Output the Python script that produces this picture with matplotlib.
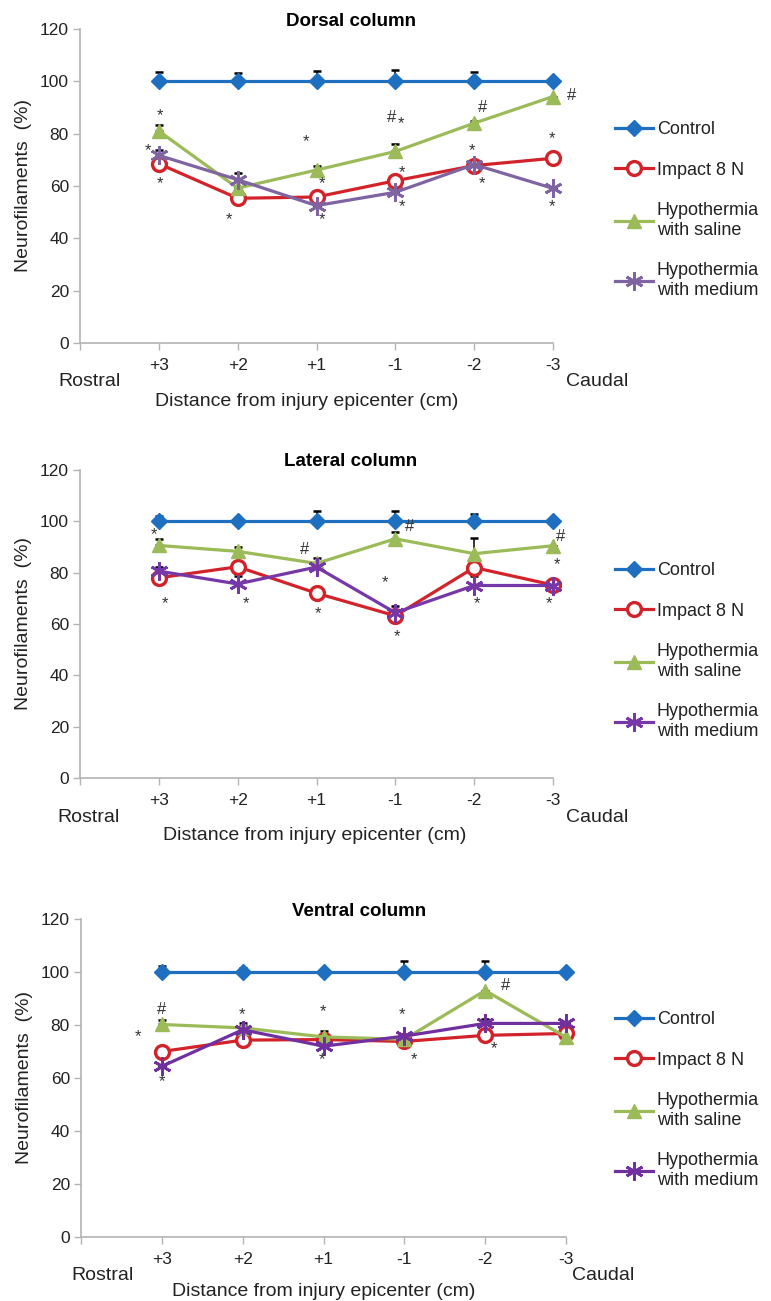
import numpy as np
import matplotlib
matplotlib.use('Agg')
import matplotlib.pyplot as plt

plt.rcParams['font.family'] = ['Liberation Sans', 'DejaVu Sans']

# categories along the cord (rostral -> caudal)
positions = ['+3', '+2', '+1', '-1', '-2', '-3']
groups = ['Control', 'Impact 8 N', 'Hypothermia\nwith saline', 'Hypothermia\nwith medium']

# Dorsal column (% of control), upper error bars
dorsal_control = [100, 100, 100, 100, 100, 100]
dorsal_impact = [68.5, 55.3, 55.8, 62.0, 67.8, 70.6]
dorsal_saline = [81.0, 59.2, 66.1, 73.2, 84.0, 94.2]
dorsal_medium = [71.7, 62.4, 52.5, 57.6, 68.2, 59.1]
dorsal_control_err = [3.7, 3.0, 4.0, 4.5, 3.7, 0]
dorsal_impact_err = [0, 0, 1.6, 2.3, 0, 0]
dorsal_saline_err = [2.4, 0, 1.7, 2.8, 1.0, 0]
dorsal_medium_err = [2.2, 2.6, 0, 0, 0, 0]

# Lateral column
lateral_control = [100, 100, 100, 100, 100, 100]
lateral_impact = [78.0, 82.3, 72.0, 63.2, 82.0, 75.2]
lateral_saline = [90.6, 88.3, 83.6, 93.2, 87.4, 90.5]
lateral_medium = [80.6, 75.6, 82.2, 64.4, 75.0, 75.0]
lateral_control_err = [2.2, 0, 4.0, 4.0, 3.0, 0]
lateral_impact_err = [0, 0, 0, 0, 0, 0]
lateral_saline_err = [2.4, 1.7, 2.0, 2.8, 6.0, 0]
lateral_medium_err = [1.8, 3.1, 0, 2.6, 3.6, 0]

# Ventral column
ventral_control = [100, 100, 100, 100, 100, 100]
ventral_impact = [70.0, 74.3, 74.5, 73.8, 76.1, 76.8]
ventral_saline = [80.2, 78.9, 75.5, 74.6, 93.0, 75.4]
ventral_medium = [64.4, 78.2, 72.0, 75.8, 80.6, 80.6]
ventral_control_err = [2.2, 1.6, 0, 4.0, 4.0, 0]
ventral_impact_err = [1.4, 0, 0, 0, 0, 0]
ventral_saline_err = [1.5, 1.8, 2.1, 0, 0, 0]
ventral_medium_err = [0, 1.6, 0, 0, 1.5, 0]

# significance marks (symbol, category position, y)
dorsal_marks = [('*', 1.02, 87), ('*', 0.86, 73.5), ('*', 1.02, 61), ('*', 1.89, 47),
                ('*', 2.87, 77), ('*', 3.07, 61), ('*', 3.07, 47), ('#', 3.95, 86),
                ('*', 4.07, 84), ('*', 4.08, 65), ('*', 4.08, 52), ('#', 5.10, 90),
                ('*', 4.97, 73.5), ('*', 5.10, 61), ('#', 6.23, 94.5), ('*', 5.99, 78),
                ('*', 5.99, 52)]
lateral_marks = [('*', 0.94, 95), ('*', 1.08, 68), ('*', 2.11, 68), ('#', 2.85, 89),
                 ('*', 3.02, 64), ('#', 4.18, 98), ('*', 3.87, 76), ('*', 4.02, 55),
                 ('*', 5.04, 68), ('#', 6.09, 94), ('*', 6.05, 83), ('*', 5.95, 68)]
ventral_marks = [('#', 1.0, 86), ('*', 0.71, 75.5), ('*', 1.0, 58.5), ('*', 1.99, 84),
                 ('*', 2.99, 85), ('*', 2.98, 67), ('*', 3.97, 84), ('*', 4.12, 67),
                 ('#', 5.25, 95), ('*', 5.11, 71)]

blue = '#1F6FC0'
red = '#D2232A'
green = '#9BBB59'
gray = '#B3B3B3'
txt = '#222222'

panels = [
    dict(title='Dorsal column', box=(80, 29, 553, 343), purple='#8064A2',
         data=[dorsal_control, dorsal_impact, dorsal_saline, dorsal_medium],
         err=[dorsal_control_err, dorsal_impact_err, dorsal_saline_err, dorsal_medium_err],
         marks=dorsal_marks, rostral=0.12, xlab=2.87, caudal=6.17),
    dict(title='Lateral column', box=(80, 470, 553, 778), purple='#7638A8',
         data=[lateral_control, lateral_impact, lateral_saline, lateral_medium],
         err=[lateral_control_err, lateral_impact_err, lateral_saline_err, lateral_medium_err],
         marks=lateral_marks, rostral=0.11, xlab=2.98, caudal=6.16),
    dict(title='Ventral column', box=(81, 919, 566, 1237), purple='#7030A0',
         data=[ventral_control, ventral_impact, ventral_saline, ventral_medium],
         err=[ventral_control_err, ventral_impact_err, ventral_saline_err, ventral_medium_err],
         marks=ventral_marks, rostral=0.27, xlab=3.0, caudal=6.08),
]

W, H = 771, 1301
fig = plt.figure(figsize=(W / 100, H / 100), dpi=100)
x = np.arange(1, len(positions) + 1)

for p in panels:
    l, t, r, b = p['box']
    hgt = b - t
    ax = fig.add_axes([l / W, 1 - b / H, (r - l) / W, hgt / H])
    styles = [
        dict(color=blue, marker='D', ms=8.5, mfc=blue, mec=blue, mew=1),
        dict(color=red, marker='o', ms=10, mfc='white', mec=red, mew=2.4),
        dict(color=green, marker='^', ms=10.5, mfc=green, mec=green, mew=1),
        dict(color=p['purple'], marker=(6, 2, 0), ms=13, mfc=p['purple'], mec=p['purple'], mew=2),
    ]
    for vals, e in zip(p['data'], p['err']):
        ax.errorbar(x, vals, yerr=[np.zeros(len(e)), e], fmt='none', ecolor='black',
                    elinewidth=1.1, capsize=2.8, capthick=1.8, zorder=2, clip_on=False)
    for vals, name, st in zip(p['data'], groups, styles):
        ax.plot(x, vals, lw=2.3, label=name, zorder=3, clip_on=False, **st)

    for sym, mx, my in p['marks']:
        ax.text(mx, my, sym, ha='center', va='center', fontsize=12,
                color='#333333', zorder=4)

    ax.set_xlim(0, 6)
    ax.set_ylim(0, 120)
    ax.set_yticks(range(0, 121, 20))
    ax.set_xticks(range(0, 7))
    ax.set_xticklabels([''] + positions)
    ax.tick_params(axis='both', direction='out', length=5, width=1, color=gray,
                   labelsize=12.5, labelcolor=txt)
    ax.tick_params(axis='x', pad=6)
    ax.tick_params(axis='y', pad=3)
    for s in ['top', 'right']:
        ax.spines[s].set_visible(False)
    for s in ['left', 'bottom']:
        ax.spines[s].set_color(gray)
        ax.spines[s].set_linewidth(1.2)

    ax.set_ylabel('Neurofilaments  (%)', fontsize=14, color=txt, labelpad=6)
    ax.text(0.573, 1 + 8 / hgt, p['title'], transform=ax.transAxes, ha='center', va='center',
            fontsize=13.5, fontweight='bold', color='black')
    ax.text(p['rostral'], -39 / hgt, 'Rostral', ha='center', va='center', fontsize=14,
            color=txt, transform=ax.get_xaxis_transform())
    ax.text(p['caudal'], -39 / hgt, 'Caudal', ha='left', va='center', fontsize=14,
            color=txt, transform=ax.get_xaxis_transform())
    ax.text(p['xlab'], -58 / hgt if t < 900 else -54 / hgt, 'Distance from injury epicenter (cm)',
            ha='center', va='center', fontsize=14, color=txt,
            transform=ax.get_xaxis_transform())

    ax.legend(loc='upper left', bbox_to_anchor=(608 / W, 1 - (t + 85) / H),
              bbox_transform=fig.transFigure, frameon=False, fontsize=13,
              labelspacing=1.3, handlelength=2.1, handletextpad=0.2, borderaxespad=0,
              labelcolor=txt)

fig.savefig('out.png', dpi=100)
